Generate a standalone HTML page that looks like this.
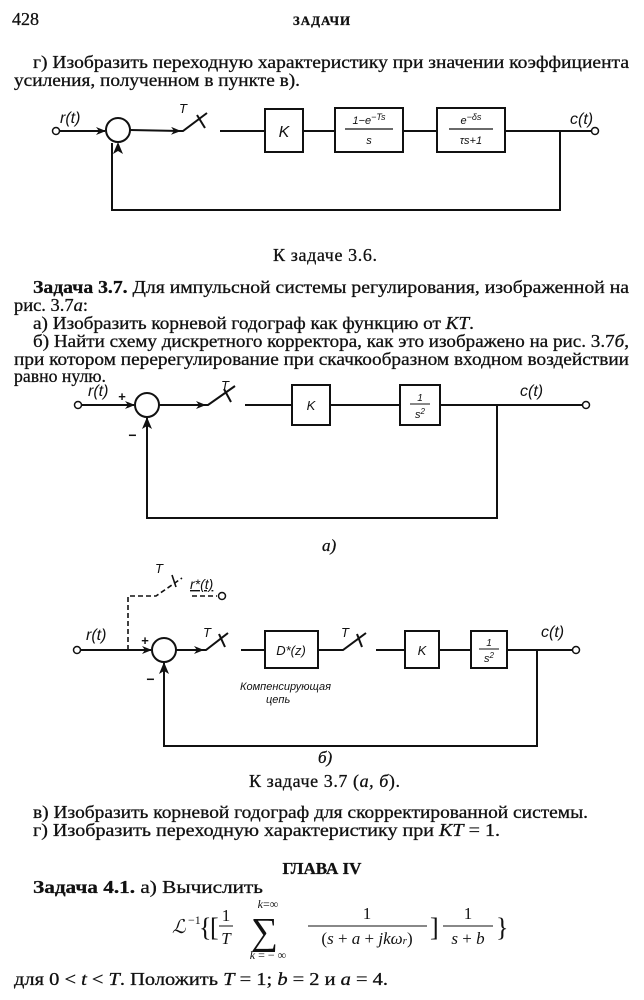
<!DOCTYPE html>
<html><head><meta charset="utf-8"><style>
html,body{margin:0;padding:0;background:#fff;}
svg{display:block;}
text{font-family:"Liberation Serif","DejaVu Serif",serif;fill:#111;}
.s{font-family:"Liberation Sans","DejaVu Sans",sans-serif;font-style:italic;}
</style></head><body>
<svg width="644" height="1000" viewBox="0 0 644 1000" xmlns="http://www.w3.org/2000/svg">
<defs>
<marker id="a" markerWidth="10" markerHeight="8" refX="9" refY="4" orient="auto" markerUnits="userSpaceOnUse"><path d="M0,0 L10,4 L0,8 L3,4z" fill="#111"/></marker>
</defs>
<g font-size="18" stroke="#111" stroke-width="0.3">
<text x="12" y="25">428</text>
<text x="322" y="25" text-anchor="middle" font-size="13" font-weight="bold" letter-spacing="1">ЗАДАЧИ</text>
<text x="33" y="68" textLength="596" lengthAdjust="spacingAndGlyphs">г) Изобразить переходную характеристику при значении коэффициента</text>
<text x="14" y="86" textLength="286" lengthAdjust="spacingAndGlyphs">усиления, полученном в пункте в).</text>
<text x="273" y="261" textLength="104" lengthAdjust="spacing">К задаче 3.6.</text>
<text x="33" y="293" textLength="596" lengthAdjust="spacingAndGlyphs"><tspan font-weight="bold">Задача 3.7.</tspan> Для импульсной системы регулирования, изображенной на</text>
<text x="14" y="311" textLength="74" lengthAdjust="spacingAndGlyphs">рис. 3.7<tspan font-style="italic">а</tspan>:</text>
<text x="33" y="329" textLength="441" lengthAdjust="spacingAndGlyphs">а) Изобразить корневой годограф как функцию от <tspan font-style="italic">KT</tspan>.</text>
<text x="33" y="347" textLength="596" lengthAdjust="spacingAndGlyphs">б) Найти схему дискретного корректора, как это изображено на рис. 3.7<tspan font-style="italic">б</tspan>,</text>
<text x="14" y="365" textLength="615" lengthAdjust="spacingAndGlyphs">при котором перерегулирование при скачкообразном входном воздействии</text>
<text x="14" y="382" textLength="92" lengthAdjust="spacingAndGlyphs">равно нулю.</text>
<text x="322" y="551" font-style="italic" font-size="17">а)</text>
<text x="318" y="763" font-style="italic" font-size="17">б)</text>
<text x="249" y="787" textLength="151" lengthAdjust="spacing">К задаче 3.7 (<tspan font-style="italic">а, б</tspan>).</text>
<text x="33" y="818" textLength="555" lengthAdjust="spacingAndGlyphs">в) Изобразить корневой годограф для скорректированной системы.</text>
<text x="33" y="836" textLength="467" lengthAdjust="spacingAndGlyphs">г) Изобразить переходную характеристику при <tspan font-style="italic">KT</tspan> = 1.</text>
<text x="322" y="874" text-anchor="middle" font-weight="bold" font-size="17">ГЛАВА IV</text>
<text x="33" y="893" textLength="230" lengthAdjust="spacingAndGlyphs"><tspan font-weight="bold">Задача 4.1.</tspan> а) Вычислить</text>
<text x="14" y="985" textLength="374" lengthAdjust="spacingAndGlyphs">для 0 &lt; <tspan font-style="italic">t</tspan> &lt; <tspan font-style="italic">T</tspan>. Положить <tspan font-style="italic">T</tspan> = 1; <tspan font-style="italic">b</tspan> = 2 и <tspan font-style="italic">a</tspan> = 4.</text>
</g>
<g font-size="17" transform="translate(0,-14)">
<text x="172" y="947" font-style="italic" font-size="19">ℒ</text><text x="188" y="938" font-size="12">−1</text>
<text x="199" y="950" font-size="26">{</text>
<text x="210" y="950" font-size="26">[</text>
<text x="226" y="935" text-anchor="middle">1</text><line x1="219" y1="940" x2="233" y2="940" stroke="#111"/><text x="226" y="958" text-anchor="middle" font-style="italic">T</text>
<text x="251" y="958" font-size="38">∑</text>
<text x="268" y="922" text-anchor="middle" font-size="12" font-style="italic">k<tspan font-style="normal">=∞</tspan></text>
<text x="268" y="973" text-anchor="middle" font-size="12" font-style="italic">k<tspan font-style="normal"> = − ∞</tspan></text>
<text x="367" y="933" text-anchor="middle">1</text><line x1="308" y1="940" x2="427" y2="940" stroke="#111"/>
<text x="367" y="958" text-anchor="middle">(<tspan font-style="italic">s</tspan> + <tspan font-style="italic">a</tspan> + <tspan font-style="italic">jkω<tspan font-size="11">r</tspan></tspan>)</text>
<text x="430" y="950" font-size="26">]</text>
<text x="468" y="933" text-anchor="middle">1</text><line x1="443" y1="940" x2="493" y2="940" stroke="#111"/>
<text x="468" y="958" text-anchor="middle"><tspan font-style="italic">s</tspan> + <tspan font-style="italic">b</tspan></text>
<text x="496" y="950" font-size="26">}</text>
</g>
<g stroke="#111" stroke-width="2" fill="none">
<circle cx="56" cy="131" r="3.5" stroke-width="1.5"/>
<line x1="60" y1="131" x2="105" y2="131" marker-end="url(#a)"/>
<circle cx="118" cy="130" r="12"/>
<line x1="130" y1="130" x2="180" y2="131" marker-end="url(#a)"/>
<polyline points="180,131 183,131 207,113"/>
<line x1="197" y1="115" x2="205" y2="128"/>
<line x1="220" y1="131" x2="265" y2="131"/>
<rect x="265" y="109" width="38" height="43"/>
<line x1="303" y1="131" x2="335" y2="131"/>
<rect x="335" y="108" width="68" height="44"/>
<line x1="403" y1="131" x2="437" y2="131"/>
<rect x="437" y="108" width="68" height="44"/>
<line x1="505" y1="131" x2="591" y2="131"/>
<circle cx="595" cy="131" r="3.5" stroke-width="1.5"/>
<polyline points="560,131 560,210 112,210 112,143"/>
<circle cx="78" cy="405" r="3.5" stroke-width="1.5"/>
<line x1="82" y1="405" x2="134" y2="405" marker-end="url(#a)"/>
<circle cx="147" cy="405" r="12"/>
<line x1="159" y1="405" x2="205" y2="405" marker-end="url(#a)"/>
<polyline points="205,405 208,405 235,386"/>
<line x1="224" y1="389" x2="231" y2="402"/>
<line x1="245" y1="405" x2="292" y2="405"/>
<rect x="292" y="385" width="38" height="40"/>
<line x1="330" y1="405" x2="400" y2="405"/>
<rect x="400" y="385" width="40" height="40"/>
<line x1="440" y1="405" x2="582" y2="405"/>
<circle cx="586" cy="405" r="3.5" stroke-width="1.5"/>
<polyline points="497,405 497,518 147,518 147,418"/>
<circle cx="77" cy="650" r="3.5" stroke-width="1.5"/>
<line x1="81" y1="650" x2="151" y2="650" marker-end="url(#a)"/>
<circle cx="164" cy="650" r="12"/>
<line x1="176" y1="650" x2="203" y2="650" marker-end="url(#a)"/>
<polyline points="203,650 206,650 228,633"/>
<line x1="219" y1="634" x2="225" y2="647"/>
<line x1="241" y1="650" x2="265" y2="650"/>
<rect x="265" y="631" width="53" height="37"/>
<polyline points="318,650 343,650 366,633"/>
<line x1="357" y1="634" x2="362" y2="647"/>
<line x1="376" y1="650" x2="405" y2="650"/>
<rect x="405" y="631" width="34" height="37"/>
<line x1="439" y1="650" x2="471" y2="650"/>
<rect x="471" y="631" width="36" height="37"/>
<line x1="507" y1="650" x2="572" y2="650"/>
<circle cx="576" cy="650" r="3.5" stroke-width="1.5"/>
<polyline points="537,650 537,746 164,746 164,663"/>
<polyline points="128,650 128,596 156,596 182,578" stroke-dasharray="5,3" stroke-width="1.6"/>
<line x1="172" y1="575" x2="176" y2="587" stroke-width="1.6"/>
<line x1="192" y1="596" x2="217" y2="596" stroke-dasharray="5,3" stroke-width="1.6"/>
<circle cx="222" cy="596" r="3.5" stroke-width="1.5"/>
</g>
<g fill="#111">
<path d="M118,142 L113,154 L118,151 L123,154z"/>
<path d="M147,417 L142,429 L147,426 L152,429z"/>
<path d="M164,662 L159,674 L164,671 L169,674z"/>
</g>
<g class="s" font-size="16">
<text x="60" y="123" class="s">r(t)</text>
<text x="179" y="113" class="s" font-size="13">T</text>
<text x="284" y="137" class="s" text-anchor="middle">K</text>
<text x="369" y="124" class="s" text-anchor="middle" font-size="11">1−e<tspan dy="-4" font-size="9">−Ts</tspan></text>
<line x1="345" y1="129" x2="393" y2="129" stroke="#111" stroke-width="1.2"/>
<text x="369" y="144" class="s" text-anchor="middle" font-size="11">s</text>
<text x="471" y="124" class="s" text-anchor="middle" font-size="11">e<tspan dy="-4" font-size="9">−δs</tspan></text>
<line x1="449" y1="129" x2="493" y2="129" stroke="#111" stroke-width="1.2"/>
<text x="471" y="144" class="s" text-anchor="middle" font-size="11">τs+1</text>
<text x="570" y="124" class="s">c(t)</text>
<text x="88" y="396" class="s">r(t)</text>
<text x="118" y="401" class="s" font-style="normal" font-size="13" font-weight="bold">+</text>
<text x="128" y="440" class="s" font-style="normal" font-size="14" font-weight="bold">−</text>
<text x="221" y="390" class="s" font-size="13">T</text>
<text x="311" y="410" class="s" text-anchor="middle" font-size="13">K</text>
<text x="420" y="401" class="s" text-anchor="middle" font-size="10">1</text>
<line x1="410" y1="404" x2="430" y2="404" stroke="#111" stroke-width="1"/>
<text x="420" y="418" class="s" text-anchor="middle" font-size="11">s<tspan dy="-4" font-size="8">2</tspan></text>
<text x="520" y="396" class="s">c(t)</text>
<text x="86" y="640" class="s">r(t)</text>
<text x="141" y="645" class="s" font-style="normal" font-size="13" font-weight="bold">+</text>
<text x="146" y="684" class="s" font-style="normal" font-size="14" font-weight="bold">−</text>
<text x="203" y="637" class="s" font-size="13">T</text>
<text x="341" y="637" class="s" font-size="13">T</text>
<text x="155" y="573" class="s" font-size="13">T</text>
<text x="190" y="589" class="s" font-size="14" text-decoration="underline">r*(t)</text>
<text x="291" y="655" class="s" text-anchor="middle" font-size="13">D*(z)</text>
<text x="422" y="655" class="s" text-anchor="middle" font-size="13">K</text>
<text x="489" y="646" class="s" text-anchor="middle" font-size="10">1</text>
<line x1="479" y1="649" x2="499" y2="649" stroke="#111" stroke-width="1"/>
<text x="489" y="662" class="s" text-anchor="middle" font-size="11">s<tspan dy="-4" font-size="8">2</tspan></text>
<text x="541" y="637" class="s">c(t)</text>
<text x="240" y="690" class="s" font-size="11">Компенсирующая</text>
<text x="266" y="703" class="s" font-size="11">цепь</text>
</g>
</svg>
</body></html>
